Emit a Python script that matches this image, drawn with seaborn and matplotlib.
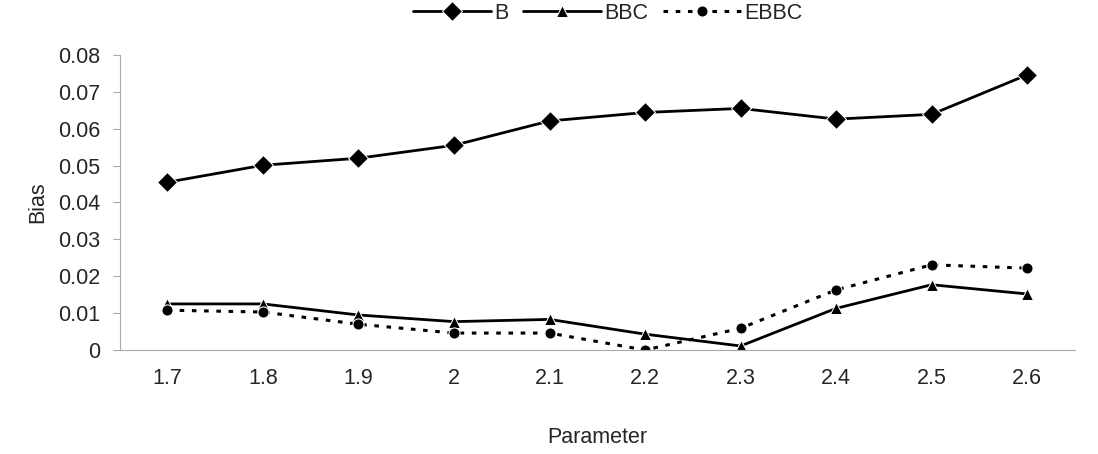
import pandas as pd
import matplotlib
matplotlib.use("Agg")
import matplotlib.pyplot as plt
import seaborn as sns
from matplotlib.ticker import FixedLocator

# data
params = ["1.7", "1.8", "1.9", "2", "2.1", "2.2", "2.3", "2.4", "2.5", "2.6"]
bias_b = [0.0455, 0.0501, 0.0520, 0.0555, 0.0621, 0.0644, 0.0655, 0.0626, 0.0639, 0.0746]
bias_bbc = [0.0125, 0.0125, 0.0095, 0.0077, 0.0083, 0.0043, 0.0011, 0.0113, 0.0177, 0.0152]
bias_ebbc = [0.0108, 0.0103, 0.0070, 0.0046, 0.0046, 0.0000, 0.0059, 0.0163, 0.0231, 0.0222]

df = pd.DataFrame({"pos": range(len(params)), "B": bias_b, "BBC": bias_bbc, "EBBC": bias_ebbc})

sns.set_style("white")
plt.rcParams["font.family"] = ["Liberation Sans", "DejaVu Sans"]
fs = 15.5

fig = plt.figure(figsize=(10.98, 4.54), dpi=100)
ax = fig.add_axes([0.109, 0.229, 0.870, 0.650])

sns.lineplot(data=df, x="pos", y="B", ax=ax, color="black", lw=2,
             marker="D", markersize=10, label="B")
sns.lineplot(data=df, x="pos", y="BBC", ax=ax, color="black", lw=2,
             marker="^", markersize=8.5, label="BBC")
sns.lineplot(data=df, x="pos", y="EBBC", ax=ax, color="black", lw=2.2,
             marker="o", markersize=8, label="EBBC", linestyle=(0, (1.5, 2.5)))

ax.set_xlim(-0.5, len(params) - 0.5)
ax.set_ylim(0, 0.08)
ax.set_xticks(range(len(params)))
ax.set_xticklabels(params, fontsize=fs)
ax.xaxis.set_minor_locator(FixedLocator([i - 0.5 for i in range(len(params) + 1)]))
ax.set_yticks([0, 0.01, 0.02, 0.03, 0.04, 0.05, 0.06, 0.07, 0.08])
ax.set_yticklabels(["0", "0.01", "0.02", "0.03", "0.04", "0.05", "0.06", "0.07", "0.08"], fontsize=fs)
ax.tick_params(axis="x", which="major", length=0, pad=13)
ax.tick_params(axis="x", which="minor", length=5, color="#aaaaaa", width=0.8)
ax.tick_params(axis="y", length=5, color="#aaaaaa", width=0.8, pad=9, left=True)

for side in ["top", "right"]:
    ax.spines[side].set_visible(False)
for side in ["left", "bottom"]:
    ax.spines[side].set_color("#aaaaaa")
    ax.spines[side].set_linewidth(0.8)

ax.set_xlabel("Parameter", fontsize=fs)
ax.set_ylabel("Bias", fontsize=fs)
ax.xaxis.set_label_coords(0.5, -0.262)
ax.yaxis.set_label_coords(-0.075, 0.5)

ax.legend(loc="center", bbox_to_anchor=(0.511, 1.142), ncol=3, frameon=False,
          fontsize=fs, handlelength=3.6, handletextpad=0.15, columnspacing=0.7,
          borderpad=0.1)

fig.savefig("out.png", dpi=100)
